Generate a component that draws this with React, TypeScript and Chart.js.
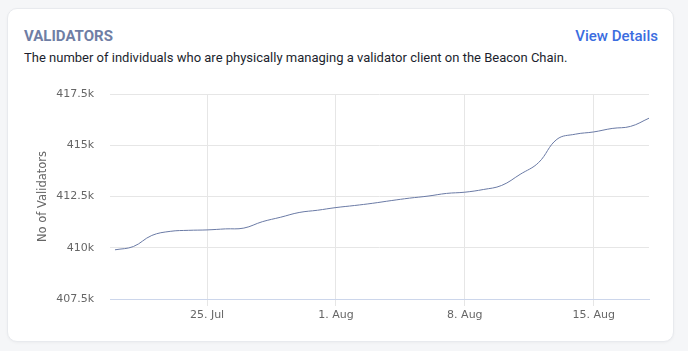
import React, { useEffect, useRef } from "react";
import { Chart, registerables } from "chart.js";

Chart.register(...registerables);

// Days since 20 Jul (0 = 20 Jul ... 29 = 18 Aug)
const days: number[] = [
  0, 1, 2, 3, 4, 5, 6, 7, 8, 9, 10, 11, 12, 13, 14, 15, 16, 17, 18, 19, 20, 21,
  22, 23, 24, 25, 26, 27, 28, 29,
];
const validators: number[] = [
  409900, 410060, 410600, 410800, 410850, 410870, 410920, 410960, 411270,
  411490, 411720, 411830, 411960, 412060, 412170, 412300, 412420, 412520,
  412650, 412710, 412840, 413040, 413580, 414150, 415290, 415540, 415650,
  415820, 415920, 416320,
];
const xTickValues: number[] = [5, 12, 19, 26];
const xTickLabels: string[] = ["25. Jul", "1. Aug", "8. Aug", "15. Aug"];
const yTicks: number[] = [407500, 410000, 412500, 415000, 417500];

export default function App() {
  const ref = useRef<HTMLCanvasElement | null>(null);

  useEffect(() => {
    if (!ref.current) return;
    document.body.style.margin = "0";
    document.body.style.background = "#f5f6f8";
    const chart = new Chart(ref.current, {
      type: "line",
      data: {
        datasets: [
          {
            data: days.map((d, i) => ({ x: d, y: validators[i] })),
            borderColor: "#6a7aa5",
            borderWidth: 1,
            pointRadius: 0,
            tension: 0.4,
            fill: false,
          },
        ],
      },
      options: {
        animation: false,
        responsive: false,
        devicePixelRatio: 1,
        layout: { padding: { top: 94, right: 39, left: 0, bottom: 0 } },
        plugins: { legend: { display: false }, tooltip: { enabled: false } },
        scales: {
          x: {
            type: "linear",
            min: -0.27,
            max: 29,
            afterBuildTicks: (s: any) => {
              s.ticks = xTickValues.map((v) => ({ value: v }));
            },
            afterFit: (s: any) => {
              s.height = 52;
            },
            ticks: {
              autoSkip: false,
              maxRotation: 0,
              padding: 3,
              color: "#666666",
              font: { family: "DejaVu Sans", size: 11 },
              callback: (v: any) => {
                const i = xTickValues.indexOf(Number(v));
                return i >= 0 ? xTickLabels[i] : "";
              },
            },
            grid: { color: "#e6e6e6", tickLength: 7, lineWidth: 1 },
            border: { color: "#ccd6eb", width: 1 },
          },
          y: {
            min: 407500,
            max: 417500,
            afterBuildTicks: (s: any) => {
              s.ticks = yTicks.map((v) => ({ value: v }));
            },
            afterFit: (s: any) => {
              s.width = 110;
            },
            ticks: {
              padding: 16,
              color: "#666666",
              font: { family: "DejaVu Sans", size: 11 },
              callback: (v: any) => Number(v) / 1000 + "k",
            },
            grid: { color: "#e6e6e6", drawTicks: false, lineWidth: 1 },
            border: { display: false },
            title: {
              display: true,
              text: "No of Validators",
              color: "#666666",
              font: { family: "DejaVu Sans", size: 11.5 },
              padding: { top: 36, bottom: 0 },
            },
          },
        },
      },
    });
    return () => chart.destroy();
  }, []);

  return (
    <div style={{ position: "relative", width: 688, height: 351, background: "#f5f6f8", overflow: "hidden" }}>
      <div
        style={{
          position: "absolute",
          left: 7,
          top: 8,
          width: 667,
          height: 334,
          background: "#ffffff",
          border: "1px solid #e8eaee",
          borderRadius: 10,
          boxSizing: "border-box",
          boxShadow: "0 1px 3px rgba(0,0,0,0.04)",
        }}
      />
      <div
        style={{
          position: "absolute",
          left: 24,
          top: 27,
          fontFamily: "Roboto",
          fontWeight: 700,
          fontSize: 15,
          color: "#6f7ea5",
          lineHeight: "18px",
        }}
      >
        VALIDATORS
      </div>
      <div
        style={{
          position: "absolute",
          right: 30,
          top: 27,
          fontFamily: "Roboto",
          fontWeight: 500,
          fontSize: 15,
          color: "#3b6de0",
          lineHeight: "18px",
        }}
      >
        View Details
      </div>
      <div
        style={{
          position: "absolute",
          left: 24,
          top: 50,
          fontFamily: "Roboto",
          fontSize: 13,
          color: "#1c1f2e",
          lineHeight: "16px",
          whiteSpace: "nowrap",
        }}
      >
        The number of individuals who are physically managing a validator client on the Beacon Chain.
      </div>
      <canvas ref={ref} width={688} height={351} style={{ position: "absolute", left: 0, top: 0 }} />
    </div>
  );
}
